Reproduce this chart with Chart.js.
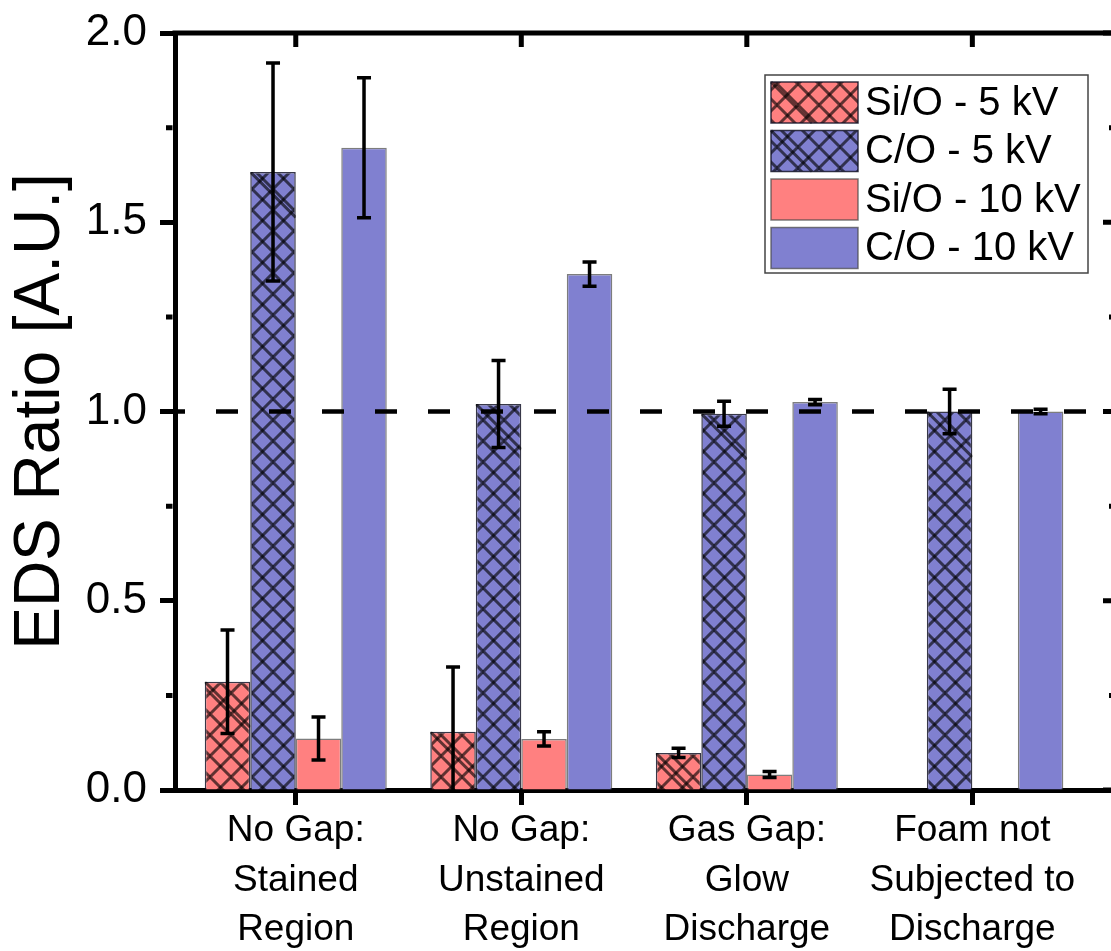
<!DOCTYPE html>
<html>
<head>
<meta charset="utf-8">
<script src="https://cdn.jsdelivr.net/npm/chart.js@4.4.1/dist/chart.umd.min.js"></script>
<style>
  html, body { margin: 0; padding: 0; background: #fff; overflow: hidden; }
  #frame { width: 1111px; height: 951px; overflow: hidden; }
  #wrap { width: 1130px; height: 951px; }
</style>
</head>
<body>
<div id="frame"><div id="wrap"><canvas id="edsChart"></canvas></div></div>
<script>
// Sample groups on the x axis, one entry per label line
const categories = [
  ['No Gap:', 'Stained', 'Region'],
  ['No Gap:', 'Unstained', 'Region'],
  ['Gas Gap:', 'Glow', 'Discharge'],
  ['Foam not', 'Subjected to', 'Discharge']
];
const seriesLabels = ['Si/O - 5 kV', 'C/O - 5 kV', 'Si/O - 10 kV', 'C/O - 10 kV'];

// EDS ratios with their standard deviations
const siO5kV     = [0.286, 0.154, 0.098, null];
const siO5kVErr  = [0.137, 0.171, 0.012, null];
const cO5kV      = [1.633, 1.020, 0.994, 1.000];
const cO5kVErr   = [0.288, 0.115, 0.033, 0.059];
const siO10kV    = [0.136, 0.135, 0.041, null];
const siO10kVErr = [0.057, 0.019, 0.008, null];
const cO10kV     = [1.697, 1.363, 1.025, 1.000];
const cO10kVErr  = [0.185, 0.032, 0.007, 0.006];

const yTicks = [0, 0.5, 1.0, 1.5, 2.0];
const yMinorTicks = [0.25, 0.75, 1.25, 1.75];
const referenceRatio = 1.0;

const FONT = "'Liberation Sans', Arial, Helvetica, sans-serif";
const RED = '#FF8080';
const BLUE = '#8080D0';
const HATCH_INK = 'rgba(0, 0, 0, 0.62)';

const canvas = document.getElementById('edsChart');
const ctx = canvas.getContext('2d');

// crosshatch fill used for the 5 kV series
function crossHatch(base) {
  const s = 21;
  const tile = document.createElement('canvas');
  tile.width = s; tile.height = s;
  const g = tile.getContext('2d');
  g.fillStyle = base;
  g.fillRect(0, 0, s, s);
  g.strokeStyle = HATCH_INK;
  g.lineWidth = 3;
  g.beginPath();
  for (let k = -1; k <= 1; k++) {
    g.moveTo(k * s, 0); g.lineTo(k * s + s, s);
  }
  g.stroke();
  g.beginPath();
  for (let k = -1; k <= 1; k++) {
    g.moveTo(k * s, s); g.lineTo(k * s + s, 0);
  }
  g.stroke();
  const p = ctx.createPattern(tile, 'repeat');
  p.hatched = true;
  return p;
}

function toPoints(values) {
  return values.map((v, i) => ({ x: i + 1, y: v }));
}

const hatchBorder = 'rgba(20, 20, 40, 0.85)';
const plainBorder = 'rgba(70, 70, 70, 0.7)';

// error bars, reference line, mirrored frame and the boxed legend
const decorations = {
  id: 'decorations',
  afterDatasetsDraw(chart) {
    const { ctx, chartArea: area, scales: { x, y } } = chart;
    ctx.save();
    ctx.beginPath();
    ctx.rect(area.left, area.top, area.right - area.left, area.bottom - area.top);
    ctx.clip();

    // the hatch starts with one diagonal from the top-left corner of each bar
    chart.data.datasets.forEach((ds, i) => {
      if (!ds.backgroundColor.hatched) return;
      chart.getDatasetMeta(i).data.forEach((bar, j) => {
        if (ds.data[j].y == null) return;
        const left = bar.x - bar.width / 2;
        const h = Math.min(bar.width, bar.base - bar.y);
        ctx.save();
        ctx.beginPath();
        ctx.rect(left, bar.y, bar.width, bar.base - bar.y);
        ctx.clip();
        ctx.strokeStyle = HATCH_INK;
        ctx.lineWidth = 3;
        ctx.beginPath();
        ctx.moveTo(left, bar.y);
        ctx.lineTo(left + h, bar.y + h);
        ctx.stroke();
        ctx.restore();
      });
    });

    // dashed line at ratio 1
    const yRef = y.getPixelForValue(referenceRatio);
    ctx.strokeStyle = '#000';
    ctx.lineWidth = 4.5;
    ctx.setLineDash([22, 31]);
    ctx.lineDashOffset = 12;
    ctx.beginPath();
    ctx.moveTo(area.left, yRef);
    ctx.lineTo(area.right, yRef);
    ctx.stroke();
    ctx.setLineDash([]);

    // error bars
    ctx.lineWidth = 3.5;
    chart.data.datasets.forEach((ds, i) => {
      const meta = chart.getDatasetMeta(i);
      meta.data.forEach((bar, j) => {
        const v = ds.data[j].y;
        const e = ds.errors[j];
        if (v == null || e == null) return;
        const yTop = y.getPixelForValue(v + e);
        const yBot = y.getPixelForValue(v - e);
        const half = 7;
        ctx.beginPath();
        ctx.moveTo(bar.x, yTop); ctx.lineTo(bar.x, yBot);
        ctx.moveTo(bar.x - half, yTop); ctx.lineTo(bar.x + half, yTop);
        ctx.moveTo(bar.x - half, yBot); ctx.lineTo(bar.x + half, yBot);
        ctx.stroke();
      });
    });
    ctx.restore();
  },
  afterDraw(chart) {
    const { ctx, chartArea: area, scales: { x, y } } = chart;
    ctx.save();
    ctx.strokeStyle = '#000';
    ctx.lineWidth = 5;
    ctx.lineCap = 'butt';

    // top and right frame lines
    ctx.beginPath();
    ctx.moveTo(area.left - 2.5, area.top);
    ctx.lineTo(area.right + 2.5, area.top);
    ctx.moveTo(area.right, area.top);
    ctx.lineTo(area.right, area.bottom);
    ctx.stroke();

    // inward ticks on the top edge
    ctx.beginPath();
    x.ticks.forEach(t => {
      const px = x.getPixelForValue(t.value);
      ctx.moveTo(px, area.top);
      ctx.lineTo(px, area.top + 14);
    });
    // inward ticks on the right edge
    yTicks.forEach(v => {
      const py = y.getPixelForValue(v);
      ctx.moveTo(area.right, py);
      ctx.lineTo(area.right - 13, py);
    });
    yMinorTicks.forEach(v => {
      const py = y.getPixelForValue(v);
      ctx.moveTo(area.right, py);
      ctx.lineTo(area.right - 7, py);
      // outward minor ticks on the left axis
      ctx.moveTo(area.left - 2.5, py);
      ctx.lineTo(area.left - 9, py);
    });
    ctx.stroke();

    // legend box
    const lg = { x: 765, y: 75, w: 323, h: 198, sw: 87, sh: 41, row: 48.5 };
    ctx.fillStyle = '#fff';
    ctx.fillRect(lg.x, lg.y, lg.w, lg.h);
    ctx.lineWidth = 1.5;
    ctx.strokeStyle = '#444';
    ctx.strokeRect(lg.x, lg.y, lg.w, lg.h);
    ctx.font = '40px ' + FONT;
    ctx.textBaseline = 'middle';
    ctx.textAlign = 'left';
    chart.data.datasets.forEach((ds, i) => {
      const sx = lg.x + 6;
      const sy = lg.y + 7 + i * lg.row;
      ctx.fillStyle = ds.backgroundColor;
      ctx.fillRect(sx, sy, lg.sw, lg.sh);
      if (ds.backgroundColor.hatched) {
        ctx.strokeStyle = HATCH_INK;
        ctx.lineWidth = 3;
        ctx.beginPath();
        ctx.moveTo(sx, sy);
        ctx.lineTo(sx + lg.sh, sy + lg.sh);
        ctx.stroke();
      }
      ctx.strokeStyle = ds.borderColor;
      ctx.lineWidth = 1.5;
      ctx.strokeRect(sx, sy, lg.sw, lg.sh);
      ctx.fillStyle = '#000';
      ctx.fillText(ds.label, lg.x + 100, sy + lg.sh / 2 + 1);
    });
    ctx.restore();
  }
};

new Chart(ctx, {
  type: 'bar',
  data: {
    datasets: [
      { label: seriesLabels[0], data: toPoints(siO5kV), errors: siO5kVErr,
        backgroundColor: crossHatch(RED), borderColor: hatchBorder, borderWidth: 1.5 },
      { label: seriesLabels[1], data: toPoints(cO5kV), errors: cO5kVErr,
        backgroundColor: crossHatch(BLUE), borderColor: hatchBorder, borderWidth: 1.5 },
      { label: seriesLabels[2], data: toPoints(siO10kV), errors: siO10kVErr,
        backgroundColor: RED, borderColor: plainBorder, borderWidth: 1.5 },
      { label: seriesLabels[3], data: toPoints(cO10kV), errors: cO10kVErr,
        backgroundColor: BLUE, borderColor: plainBorder, borderWidth: 1.5 }
    ]
  },
  options: {
    responsive: true,
    maintainAspectRatio: false,
    animation: false,
    layout: { padding: { top: 33, right: 14, left: 0, bottom: 0 } },
    categoryPercentage: 0.807,
    barPercentage: 1.0,
    plugins: {
      legend: { display: false },
      tooltip: { enabled: false }
    },
    scales: {
      x: {
        type: 'linear',
        min: 0.4645,
        max: 4.637,
        offset: false,
        afterBuildTicks: s => { s.ticks = categories.map((c, i) => ({ value: i + 1 })); },
        afterFit: s => { s.height = 161; },
        ticks: {
          callback: (v, i) => categories[i],
          color: '#000',
          font: { family: FONT, size: 37, lineHeight: 1.34 },
          padding: 1,
          maxRotation: 0,
          autoSkip: false
        },
        grid: { drawOnChartArea: false, offset: false, tickLength: 15, tickWidth: 5, tickColor: '#000' },
        border: { display: true, width: 5, color: '#000' }
      },
      y: {
        min: 0,
        max: 2,
        afterBuildTicks: s => { s.ticks = yTicks.map(v => ({ value: v })); },
        afterFit: s => { s.width = 175; s.paddingTop = 0; s.paddingBottom = 0; },
        ticks: {
          callback: v => v.toFixed(1),
          color: '#000',
          font: { family: FONT, size: 44 },
          padding: 13
        },
        grid: { drawOnChartArea: false, tickLength: 15, tickWidth: 5, tickColor: '#000' },
        border: { display: true, width: 5, color: '#000' },
        title: {
          display: true,
          text: 'EDS Ratio [A.U.]',
          color: '#000',
          font: { family: FONT, size: 64 },
          padding: { top: 3, bottom: 0 }
        }
      }
    }
  },
  plugins: [decorations]
});
</script>
</body>
</html>
